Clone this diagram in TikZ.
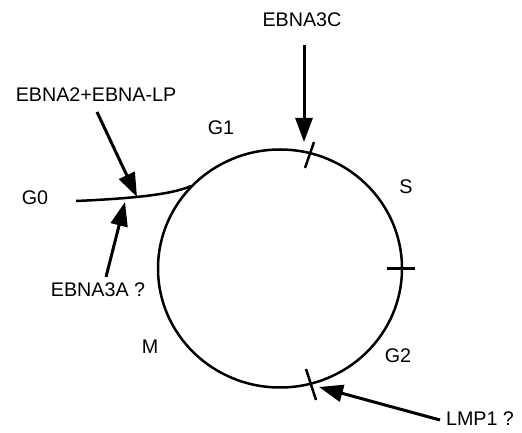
\documentclass[tikz,border=0pt]{standalone}
\usepackage{fontspec}
\setmainfont{Liberation Sans}
\usetikzlibrary{arrows.meta}
\begin{document}
\begin{tikzpicture}[x=1pt,y=1pt,
  lbl/.style={inner sep=0pt,font=\fontsize{19.7}{22}\selectfont},
  cycle/.style={line width=2.5pt},
  tick/.style={line width=2.5pt},
  act/.style={line width=3pt,-{Triangle[length=24pt,width=17pt]},shorten >=0pt}]
\useasboundingbox (0,0) rectangle (522,433);
% labels
\node[lbl] (ebna3c) at (302,413.5) {EBNA3C};
\node[lbl] (ebna2) at (96,338) {EBNA2+EBNA-LP};
\node[lbl] (g1) at (221,305) {G1};
\node[lbl] (s) at (406,246) {S};
\node[lbl] (g0) at (35,235) {G0};
\node[lbl] (ebna3a) at (98,143) {EBNA3A ?};
\node[lbl] (m) at (150,86) {M};
\node[lbl] (g2) at (398,77) {G2};
\node[lbl] (lmp1) at (480,14) {LMP1 ?};
% cycle
\draw[cycle] (280,164.5) ellipse [x radius=122, y radius=119];
% G0 branch
\coordinate (g0s) at (76,232);
\coordinate (g0e) at (191,247);
\draw[cycle] (g0s) .. controls (145,235) and (175,240) .. (g0e);
% ticks
\coordinate (t1a) at (305,265); \coordinate (t1b) at (314,291);
\coordinate (t2a) at (387,164.5); \coordinate (t2b) at (415,164.5);
\coordinate (t3a) at (306,64); \coordinate (t3b) at (316,33);
\draw[tick] (t1a) -- (t1b);
\draw[tick] (t2a) -- (t2b);
\draw[tick] (t3a) -- (t3b);
% arrows
\coordinate (a1s) at (304,388); \coordinate (a1e) at (304,291);
\coordinate (a2s) at (97,321); \coordinate (a2e) at (137,236);
\coordinate (a3s) at (106,156); \coordinate (a3e) at (125,231);
\coordinate (a4s) at (440,13); \coordinate (a4e) at (319,46);
\draw[act] (a1s) -- (a1e);
\draw[act] (a2s) -- (a2e);
\draw[act] (a3s) -- (a3e);
\draw[act] (a4s) -- (a4e);
\end{tikzpicture}
\end{document}
